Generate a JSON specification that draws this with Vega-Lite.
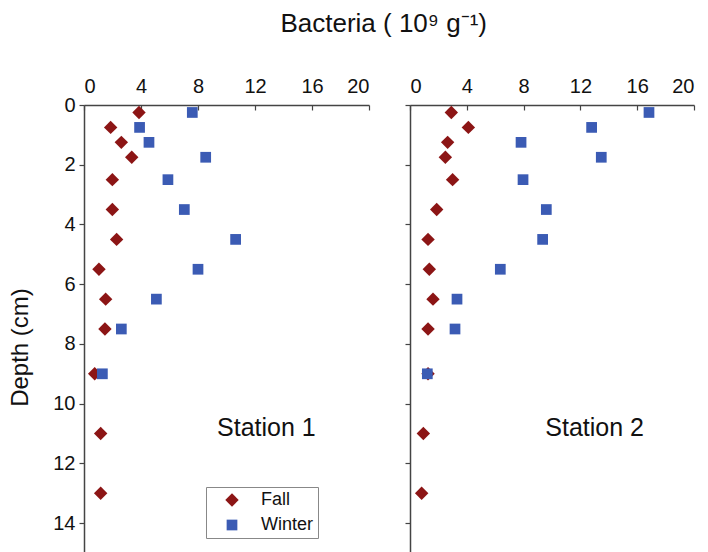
{
  "$schema": "https://vega.github.io/schema/vega-lite/v6.json",
  "padding": {"left": 8, "top": 11, "right": 5, "bottom": 0},
  "background": "white",
  "datasets": {
    "bacteria": [
      {"station": "Station 1", "season": "Fall", "depth": 0.25, "value": 3.86},
      {"station": "Station 1", "season": "Fall", "depth": 0.75, "value": 1.87},
      {"station": "Station 1", "season": "Fall", "depth": 1.25, "value": 2.62},
      {"station": "Station 1", "season": "Fall", "depth": 1.75, "value": 3.35},
      {"station": "Station 1", "season": "Fall", "depth": 2.5, "value": 1.99},
      {"station": "Station 1", "season": "Fall", "depth": 3.5, "value": 1.99},
      {"station": "Station 1", "season": "Fall", "depth": 4.5, "value": 2.29},
      {"station": "Station 1", "season": "Fall", "depth": 5.5, "value": 1.05},
      {"station": "Station 1", "season": "Fall", "depth": 6.5, "value": 1.52},
      {"station": "Station 1", "season": "Fall", "depth": 7.5, "value": 1.47},
      {"station": "Station 1", "season": "Fall", "depth": 9, "value": 0.75},
      {"station": "Station 1", "season": "Fall", "depth": 11, "value": 1.17},
      {"station": "Station 1", "season": "Fall", "depth": 13, "value": 1.17},
      {"station": "Station 1", "season": "Winter", "depth": 0.25, "value": 7.6},
      {"station": "Station 1", "season": "Winter", "depth": 0.75, "value": 3.9},
      {"station": "Station 1", "season": "Winter", "depth": 1.25, "value": 4.56},
      {"station": "Station 1", "season": "Winter", "depth": 1.75, "value": 8.54},
      {"station": "Station 1", "season": "Winter", "depth": 2.5, "value": 5.89},
      {"station": "Station 1", "season": "Winter", "depth": 3.5, "value": 7.04},
      {"station": "Station 1", "season": "Winter", "depth": 4.5, "value": 10.64},
      {"station": "Station 1", "season": "Winter", "depth": 5.5, "value": 8.0},
      {"station": "Station 1", "season": "Winter", "depth": 6.5, "value": 5.08},
      {"station": "Station 1", "season": "Winter", "depth": 7.5, "value": 2.62},
      {"station": "Station 1", "season": "Winter", "depth": 9, "value": 1.29},
      {"station": "Station 2", "season": "Fall", "depth": 0.25, "value": 2.91},
      {"station": "Station 2", "season": "Fall", "depth": 0.75, "value": 4.11},
      {"station": "Station 2", "season": "Fall", "depth": 1.25, "value": 2.65},
      {"station": "Station 2", "season": "Fall", "depth": 1.75, "value": 2.49},
      {"station": "Station 2", "season": "Fall", "depth": 2.5, "value": 3.0},
      {"station": "Station 2", "season": "Fall", "depth": 3.5, "value": 1.88},
      {"station": "Station 2", "season": "Fall", "depth": 4.5, "value": 1.27},
      {"station": "Station 2", "season": "Fall", "depth": 5.5, "value": 1.36},
      {"station": "Station 2", "season": "Fall", "depth": 6.5, "value": 1.62},
      {"station": "Station 2", "season": "Fall", "depth": 7.5, "value": 1.27},
      {"station": "Station 2", "season": "Fall", "depth": 9, "value": 1.27},
      {"station": "Station 2", "season": "Fall", "depth": 11, "value": 0.94},
      {"station": "Station 2", "season": "Fall", "depth": 13, "value": 0.82},
      {"station": "Station 2", "season": "Winter", "depth": 0.25, "value": 16.83},
      {"station": "Station 2", "season": "Winter", "depth": 0.75, "value": 12.79},
      {"station": "Station 2", "season": "Winter", "depth": 1.25, "value": 7.82},
      {"station": "Station 2", "season": "Winter", "depth": 1.75, "value": 13.47},
      {"station": "Station 2", "season": "Winter", "depth": 2.5, "value": 7.96},
      {"station": "Station 2", "season": "Winter", "depth": 3.5, "value": 9.6},
      {"station": "Station 2", "season": "Winter", "depth": 4.5, "value": 9.34},
      {"station": "Station 2", "season": "Winter", "depth": 5.5, "value": 6.36},
      {"station": "Station 2", "season": "Winter", "depth": 6.5, "value": 3.31},
      {"station": "Station 2", "season": "Winter", "depth": 7.5, "value": 3.17},
      {"station": "Station 2", "season": "Winter", "depth": 9, "value": 1.22}
    ]
  },
  "title": {
    "text": "Bacteria  ( 10⁹  g⁻¹)",
    "font": "Liberation Sans",
    "fontSize": 26,
    "fontWeight": "normal",
    "color": "#111",
    "anchor": "middle",
    "offset": 39,
    "dx": 32
  },
  "config": {
    "view": {"stroke": null},
    "font": "Liberation Sans",
    "axis": {
      "grid": false,
      "domainColor": "#444",
      "domainWidth": 1.5,
      "tickColor": "#444",
      "tickWidth": 1.2,
      "labelFont": "Liberation Sans",
      "labelFontSize": 20,
      "labelColor": "#111",
      "titleFont": "Liberation Sans",
      "titleFontSize": 24,
      "titleFontWeight": "normal",
      "titleColor": "#111"
    },
    "legend": {
      "labelFont": "Liberation Sans",
      "labelFontSize": 18,
      "labelColor": "#111"
    }
  },
  "spacing": 34,
  "resolve": {"legend": {"color": "independent", "shape": "independent", "size": "independent"}},
  "hconcat": [
    {
      "width": 285,
      "height": 448,
      "layer": [
        {
          "data": {"name": "bacteria"},
          "transform": [{"filter": "datum.station === 'Station 1'"}],
          "mark": {"type": "point", "filled": true, "opacity": 1},
          "encoding": {
            "x": {"field": "value", "type": "quantitative", "scale": {"domain": [0, 20], "nice": false},
              "axis": {"orient": "top", "title": null, "values": [0,2,4,6,8,10,12,14,16,18,20],
                "labelExpr": "datum.value % 4 === 0 ? datum.label : ''",
                "tickSize": {"condition": {"test": "datum.value % 4 === 0", "value": -5}, "value": -3},
                "labelPadding": 14}},
            "y": {"field": "depth", "type": "quantitative", "scale": {"domain": [0, 15], "reverse": true, "nice": false},
              "axis": {"title": "Depth (cm)", "values": [0,1,2,3,4,5,6,7,8,9,10,11,12,13,14,15],
                "labelExpr": "datum.value % 2 === 0 ? datum.label : ''",
                "tickSize": {"condition": {"test": "datum.value % 2 === 0", "value": 5}, "value": 3},
                "labelPadding": 4, "titlePadding": 20, "titleY": 242}},
            "color": {"field": "season", "type": "nominal", "scale": {"domain": ["Fall", "Winter"], "range": ["#8C1515", "#3B5BB4"]},
              "legend": {"orient": "none", "legendX": 122, "legendY": 382, "title": null, "strokeColor": "#888",
                "padding": 4, "rowPadding": 7, "labelOffset": 20, "symbolOffset": 13}},
            "shape": {"field": "season", "type": "nominal", "scale": {"domain": ["Fall", "Winter"], "range": ["diamond", "square"]}},
            "size": {"field": "season", "type": "nominal", "scale": {"domain": ["Fall", "Winter"], "range": [180, 115]}}
          }
        },
        {
          "data": {"values": [{}]},
          "mark": {"type": "text", "text": "Station 1", "fontSize": 25, "font": "Liberation Sans", "color": "#111", "align": "center", "baseline": "middle"},
          "encoding": {"x": {"datum": 12.8}, "y": {"datum": 10.8}}
        }
      ]
    },
    {
      "width": 284,
      "height": 448,
      "layer": [
        {
          "data": {"name": "bacteria"},
          "transform": [{"filter": "datum.station === 'Station 2'"}],
          "mark": {"type": "point", "filled": true, "opacity": 1},
          "encoding": {
            "x": {"field": "value", "type": "quantitative", "scale": {"domain": [0, 20], "nice": false},
              "axis": {"orient": "top", "title": null, "values": [0,2,4,6,8,10,12,14,16,18,20],
                "labelExpr": "datum.value % 4 === 0 ? datum.label : ''",
                "tickSize": {"condition": {"test": "datum.value % 4 === 0", "value": -5}, "value": -3},
                "labelPadding": 14}},
            "y": {"field": "depth", "type": "quantitative", "scale": {"domain": [0, 15], "reverse": true, "nice": false},
              "axis": {"title": null, "labels": false, "values": [0,1,2,3,4,5,6,7,8,9,10,11,12,13,14,15],
                "tickSize": {"condition": {"test": "datum.value % 2 === 0", "value": 5}, "value": 3}}},
            "color": {"field": "season", "type": "nominal", "scale": {"domain": ["Fall", "Winter"], "range": ["#8C1515", "#3B5BB4"]}, "legend": null},
            "shape": {"field": "season", "type": "nominal", "scale": {"domain": ["Fall", "Winter"], "range": ["diamond", "square"]}, "legend": null},
            "size": {"field": "season", "type": "nominal", "scale": {"domain": ["Fall", "Winter"], "range": [180, 115]}, "legend": null}
          }
        },
        {
          "data": {"values": [{}]},
          "mark": {"type": "text", "text": "Station 2", "fontSize": 25, "font": "Liberation Sans", "color": "#111", "align": "center", "baseline": "middle"},
          "encoding": {"x": {"datum": 13}, "y": {"datum": 10.8}}
        }
      ]
    }
  ]
}
